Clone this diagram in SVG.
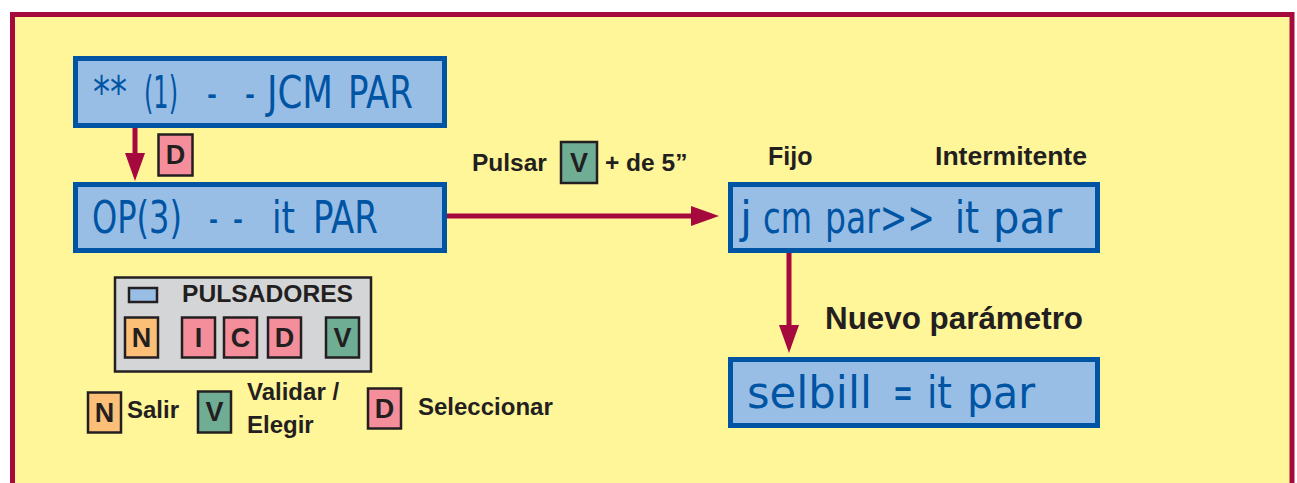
<svg xmlns="http://www.w3.org/2000/svg" width="1297" height="483" viewBox="0 0 1297 483">
<style>
.frame{fill:#FFF599;stroke:#A6093D;stroke-width:5}
.lcd{fill:#99BEE5;stroke:#0054A4;stroke-width:5}
.lcdt{font-family:"DejaVu Sans Condensed","DejaVu Sans",sans-serif;font-size:44px;fill:#0054A4}
.lbl{font-family:"Liberation Sans",Arial,sans-serif;font-weight:bold;fill:#231F20}
.key{stroke:#231F20;stroke-width:2.5}
.keyt{font-family:"Liberation Sans",Arial,sans-serif;font-weight:bold;font-size:27px;fill:#231F20;text-anchor:middle}
.pink{fill:#F48E9A}
.green{fill:#6FAE95}
.orange{fill:#FBBF77}
.conn{stroke:#A6093D;stroke-width:5;fill:none}
</style>
<defs>
<marker id="ah" viewBox="0 0 28 20" refX="18" refY="10" markerWidth="28" markerHeight="20" markerUnits="userSpaceOnUse" orient="auto">
<path d="M0,0 L28,10 L0,20 z" fill="#A6093D"/>
</marker>
</defs>
<rect x="0" y="0" width="1297" height="483" fill="#FFFFFF"/>
<rect class="frame" x="12.5" y="14.5" width="1279.5" height="480"/>

<g id="connectors">
<path class="conn" d="M135,128 V171" marker-end="url(#ah)"/>
<path class="conn" d="M447,216 H709" marker-end="url(#ah)"/>
<path class="conn" d="M789,253 V343" marker-end="url(#ah)"/>
</g>

<g id="node-jcm">
<rect class="lcd" x="75.5" y="58.5" width="369" height="67"/>
<text class="lcdt" y="108"><tspan x="93" textLength="34" lengthAdjust="spacingAndGlyphs">**</tspan><tspan x="144" textLength="34" lengthAdjust="spacingAndGlyphs">(1)</tspan><tspan x="207" textLength="10" lengthAdjust="spacingAndGlyphs">-</tspan><tspan x="245" textLength="10" lengthAdjust="spacingAndGlyphs">-</tspan><tspan x="267" textLength="66" lengthAdjust="spacingAndGlyphs">JCM</tspan><tspan x="348" textLength="65" lengthAdjust="spacingAndGlyphs">PAR</tspan></text>
</g>

<g id="node-op3">
<rect class="lcd" x="75.5" y="184.5" width="369" height="66"/>
<text class="lcdt" y="233"><tspan x="92" textLength="90" lengthAdjust="spacingAndGlyphs">OP(3)</tspan><tspan x="209" textLength="9" lengthAdjust="spacingAndGlyphs">-</tspan><tspan x="233" textLength="10" lengthAdjust="spacingAndGlyphs">-</tspan><tspan x="272" textLength="23" lengthAdjust="spacingAndGlyphs">it</tspan><tspan x="313" textLength="65" lengthAdjust="spacingAndGlyphs">PAR</tspan></text>
</g>

<g id="badge-d">
<rect class="key pink" x="158.5" y="134.5" width="34" height="41"/>
<text class="keyt" x="175.5" y="164">D</text>
</g>

<g id="label-pulsar">
<text class="lbl" x="472" y="171" font-size="24.5">Pulsar</text>
<rect class="key green" x="561" y="142" width="36" height="41"/>
<text class="keyt" x="579" y="172">V</text>
<text class="lbl" x="605" y="171" font-size="24.5">+ de 5”</text>
</g>

<g id="node-jcmpar">
<rect class="lcd" x="730.5" y="184.5" width="367" height="66"/>
<text class="lcdt" y="233"><tspan x="740" textLength="12" lengthAdjust="spacingAndGlyphs">j</tspan><tspan x="763" textLength="49" lengthAdjust="spacingAndGlyphs">cm</tspan><tspan x="825" textLength="110" lengthAdjust="spacingAndGlyphs">par&gt;&gt;</tspan><tspan x="955" textLength="24" lengthAdjust="spacingAndGlyphs">it</tspan><tspan x="993" textLength="69" lengthAdjust="spacingAndGlyphs">par</tspan></text>
</g>

<text class="lbl" x="768" y="165" font-size="25">Fijo</text>
<text class="lbl" x="935" y="165" font-size="25" textLength="152" lengthAdjust="spacingAndGlyphs">Intermitente</text>
<text class="lbl" x="825" y="329" font-size="31" textLength="258" lengthAdjust="spacingAndGlyphs">Nuevo parámetro</text>

<g id="node-selbill">
<rect class="lcd" x="730.5" y="359.5" width="367" height="66"/>
<text class="lcdt" y="408"><tspan x="747" textLength="125" lengthAdjust="spacingAndGlyphs">selbill</tspan><tspan x="893" textLength="20" lengthAdjust="spacingAndGlyphs">=</tspan><tspan x="927" textLength="25" lengthAdjust="spacingAndGlyphs">it</tspan><tspan x="967" textLength="68" lengthAdjust="spacingAndGlyphs">par</tspan></text>
</g>

<g id="pulsadores">
<rect x="115" y="277.5" width="256" height="94" fill="#D4D5D7" stroke="#231F20" stroke-width="2.5"/>
<rect x="129" y="288" width="28" height="14" fill="#99BEE5" stroke="#231F20" stroke-width="2.5"/>
<text class="lbl" x="182" y="302" font-size="24" textLength="171" lengthAdjust="spacingAndGlyphs">PULSADORES</text>
<rect class="key orange" x="125" y="317.5" width="33" height="40"/>
<text class="keyt" x="141.5" y="347">N</text>
<rect class="key pink" x="182" y="317.5" width="33" height="40"/>
<text class="keyt" x="198.5" y="347">I</text>
<rect class="key pink" x="224" y="317.5" width="33" height="40"/>
<text class="keyt" x="240.5" y="347">C</text>
<rect class="key pink" x="268" y="317.5" width="33" height="40"/>
<text class="keyt" x="284.5" y="347">D</text>
<rect class="key green" x="326" y="317.5" width="33" height="40"/>
<text class="keyt" x="342.5" y="347">V</text>
</g>

<g id="legend">
<rect class="key orange" x="88" y="392.5" width="33" height="40"/>
<text class="keyt" x="104.5" y="422">N</text>
<text class="lbl" x="127" y="418" font-size="24">Salir</text>
<rect class="key green" x="198" y="391.5" width="33" height="41"/>
<text class="keyt" x="214.5" y="421">V</text>
<text class="lbl" x="247" y="400" font-size="24">Validar /</text>
<text class="lbl" x="247" y="433" font-size="24">Elegir</text>
<rect class="key pink" x="368" y="388.5" width="33" height="40"/>
<text class="keyt" x="384.5" y="418">D</text>
<text class="lbl" x="418" y="415" font-size="24">Seleccionar</text>
</g>
</svg>
